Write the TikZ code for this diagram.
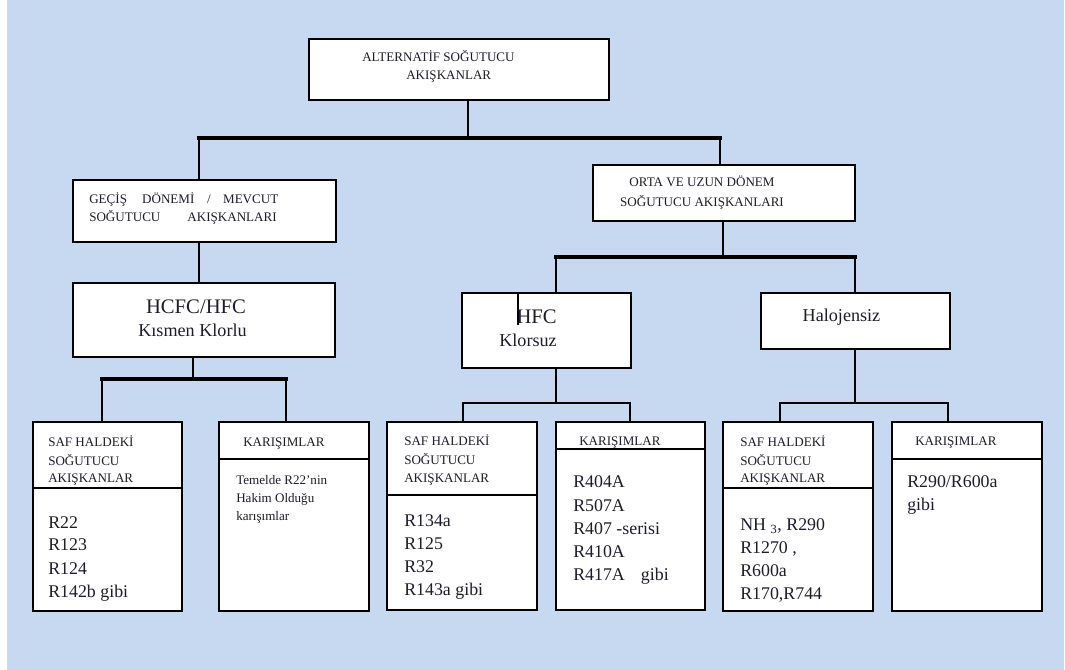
\documentclass[tikz,border=0pt]{standalone}
\usepackage{fontspec}
\setmainfont{Liberation Serif}
\usetikzlibrary{fit}
\definecolor{bgblue}{RGB}{198,217,240}
\definecolor{ink}{RGB}{30,28,45}
\begin{document}
\begin{tikzpicture}[x=0.75pt,y=-0.75pt,
  box/.style={draw=black, fill=white, line width=1.4pt, inner sep=0pt},
  divider/.style={draw=black, line width=1.4pt},
  conn/.style={draw=black, line width=1.2pt},
  bar/.style={draw=black, line width=2.3pt, line cap=rect},
  thinbar/.style={draw=black, line width=1.6pt, line cap=rect},
  txt/.style={anchor=base west, inner sep=0pt, text=ink},
  hd/.style={txt, font=\fontsize{9.8}{12}\selectfont},
  body/.style={txt, font=\fontsize{13.4}{16}\selectfont},
  big/.style={txt, font=\fontsize{15.5}{18}\selectfont},
  mid/.style={txt, font=\fontsize{13.6}{16}\selectfont}
]
\useasboundingbox (0,0) rectangle (1065,670);
\fill[bgblue] (7,0) rectangle (1064,670);

% boxes
\node[box, fit={(309,39) (609,100)}] (top) {};
\node[box, fit={(73,180) (336,242)}] (gec) {};
\node[box, fit={(593,165) (855,221)}] (orta) {};
\node[box, fit={(73,283) (335,357)}] (hcfc) {};
\node[box, fit={(462,293) (631,368)}] (hfc) {};
\node[box, fit={(761,293) (950,349)}] (halo) {};
\node[box, fit={(33,422) (182,611)}] (b1) {};
\node[box, fit={(219,422) (369,611)}] (b2) {};
\node[box, fit={(387,422) (537,610)}] (b3) {};
\node[box, fit={(556,422) (705,610)}] (b4) {};
\node[box, fit={(723,422) (873,611)}] (b5) {};
\node[box, fit={(892,422) (1042,611)}] (b6) {};

% dividers
\draw[divider] (b1.west |- 0,488) -- (b1.east |- 0,488);
\draw[divider] (b2.west |- 0,459) -- (b2.east |- 0,459);
\draw[divider] (b3.west |- 0,495) -- (b3.east |- 0,495);
\draw[divider] (b4.west |- 0,449) -- (b4.east |- 0,449);
\draw[divider] (b5.west |- 0,488) -- (b5.east |- 0,488);
\draw[divider] (b6.west |- 0,459) -- (b6.east |- 0,459);

% junction coordinates
\coordinate (j0) at (468,138);
\coordinate (j0l) at (199,138);
\coordinate (j0r) at (720,138);
\coordinate (j1) at (193,379);
\coordinate (j1l) at (102,379);
\coordinate (j1r) at (286,379);
\coordinate (j2) at (723,257);
\coordinate (j2l) at (556,257);
\coordinate (j2r) at (855,257);
\coordinate (j3) at (556,403);
\coordinate (j3l) at (463,403);
\coordinate (j3r) at (630,403);
\coordinate (j4) at (855,403);
\coordinate (j4l) at (780,403);
\coordinate (j4r) at (948,403);

% connectors
\draw[conn] (top.south -| j0) -- (j0);
\draw[bar] (j0l) -- (j0r);
\draw[conn] (j0l) -- (gec.north -| j0l);
\draw[conn] (j0r) -- (orta.north -| j0r);
\draw[conn] (gec.south -| j0l) -- (hcfc.north -| j0l);

\draw[conn] (hcfc.south -| j1) -- (j1);
\draw[bar] (j1l) -- (j1r);
\draw[conn] (j1l) -- (b1.north -| j1l);
\draw[conn] (j1r) -- (b2.north -| j1r);

\draw[conn] (orta.south -| j2) -- (j2);
\draw[bar] (j2l) -- (j2r);
\draw[conn] (j2l) -- (hfc.north -| j2l);
\draw[conn] (j2r) -- (halo.north -| j2r);

\draw[conn] (hfc.south -| j3) -- (j3);
\draw[thinbar] (j3l) -- (j3r);
\draw[conn] (j3l) -- (b3.north -| j3l);
\draw[conn] (j3r) -- (b4.north -| j3r);

\draw[conn] (halo.south -| j4) -- (j4);
\draw[thinbar] (j4l) -- (j4r);
\draw[conn] (j4l) -- (b5.north -| j4l);
\draw[conn] (j4r) -- (b6.north -| j4r);

% stray mark inside HFC box
\draw[line width=1pt] (hfc.north -| 518,0) -- (518,325);

% texts
\node[hd] (t0a) at (362,62) {ALTERNATİF SOĞUTUCU};
\node[hd] (t0b) at (406,80) {AKIŞKANLAR};

\node[hd] (t1a) at (89,204) {GEÇİŞ\hspace{1.16em}DÖNEMİ\hspace{0.97em}/\hspace{0.95em}MEVCUT};
\node[hd] (t1b) at (89,222) {SOĞUTUCU\hspace{2.07em}AKIŞKANLARI};

\node[hd, anchor=base] (t2a) at (702,187) {ORTA VE UZUN DÖNEM};
\node[hd, anchor=base] (t2b) at (702,207) {SOĞUTUCU AKIŞKANLARI};

\node[big, anchor=base] (t3a) at (196,314) {HCFC/HFC};
\node[mid, anchor=base] (t3b) at (192.5,337) {Kısmen Klorlu};

\node[big, anchor=base east] (t4a) at (557,324) {HFC};
\node[mid, anchor=base east] (t4b) at (557,347) {Klorsuz};

\node[mid, anchor=base] (t5) at (841.5,322) {Halojensiz};

% bottom box headers
\foreach \s [count=\i] in {SAF HALDEKİ, SOĞUTUCU, AKIŞKANLAR}
  \node[hd] (h1-\i) at (48,{447+(\i-1)*18}) {\s};
\node[hd] (h2) at (243,447) {KARIŞIMLAR};
\foreach \s [count=\i] in {SAF HALDEKİ, SOĞUTUCU, AKIŞKANLAR}
  \node[hd] (h3-\i) at (404,{446+(\i-1)*18.5}) {\s};
\node[hd] (h4) at (579,446) {KARIŞIMLAR};
\foreach \s [count=\i] in {SAF HALDEKİ, SOĞUTUCU, AKIŞKANLAR}
  \node[hd] (h5-\i) at (740,{447+(\i-1)*18}) {\s};
\node[hd] (h6) at (915,446) {KARIŞIMLAR};

% bottom box bodies
\foreach \s [count=\i] in {R22, R123, R124, R142b gibi}
  \node[body] (c1-\i) at (48,{528+(\i-1)*23}) {\s};
\foreach \s [count=\i] in {Temelde R22’nin, Hakim Olduğu, karışımlar}
  \node[hd] (c2-\i) at (236,{484+(\i-1)*18.3}) {\s};
\foreach \s [count=\i] in {R134a, R125, R32, R143a gibi}
  \node[body] (c3-\i) at (404,{527+(\i-1)*22.7}) {\s};
\foreach \s [count=\i] in {R404A, R507A, R407 -serisi, R410A, R417A\hspace{0.9em}gibi}
  \node[body] (c4-\i) at (573,{488+(\i-1)*23.2}) {\s};
\foreach \s [count=\i] in {{NH \textsubscript{3}, R290}, {R1270 ,}, R600a, {R170,R744}}
  \node[body] (c5-\i) at (740,{531+(\i-1)*22.7}) {\s};
\foreach \s [count=\i] in {R290/R600a, gibi}
  \node[body] (c6-\i) at (907,{488+(\i-1)*22.7}) {\s};
\end{tikzpicture}
\end{document}
